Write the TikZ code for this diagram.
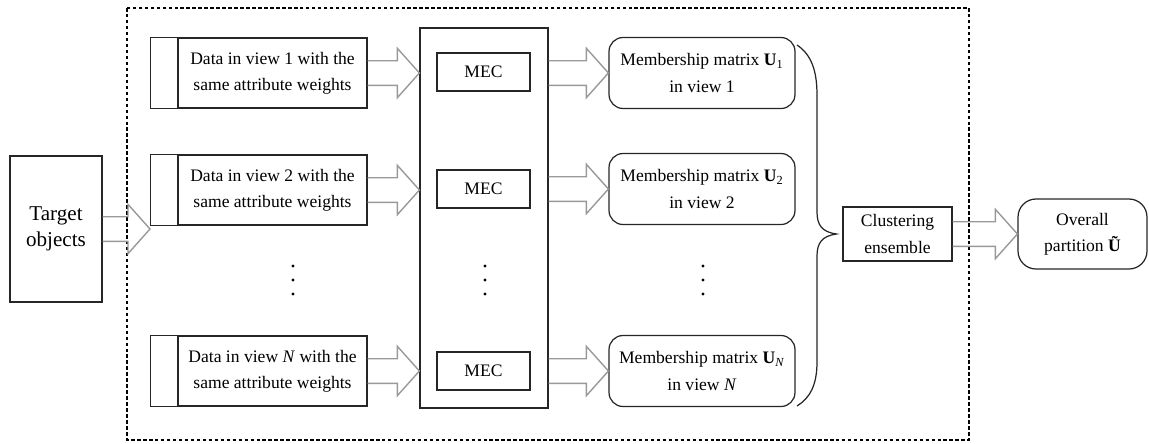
\documentclass[tikz,border=0pt]{standalone}
\usepackage{fontspec}
\setmainfont{Liberation Serif}
\usetikzlibrary{calc}

\newcommand{\blockarrow}[2]{%
	\draw[blockarrow] let \p1=(#1), \p2=(#2) in
		(\x1,\y1+7pt) -- (\x2-12.5pt,\y1+7pt) -- (\x2-12.5pt,\y1+14pt) -- (\x2,\y1)
		-- (\x2-12.5pt,\y1-14pt) -- (\x2-12.5pt,\y1-7pt) -- (\x1,\y1-7pt);}

\begin{document}
\begin{tikzpicture}[x=0.02cm, y=-0.02cm,
	box/.style={shape=rectangle, draw=black!85, line width=0.7pt, inner sep=0pt, align=center,
		font=\fontsize{10}{15}\selectfont},
	datbox/.style={box, minimum width=3.78cm, minimum height=1.4cm},
	mecbox/.style={box, minimum width=1.86cm, minimum height=0.76cm},
	membox/.style={box, rounded corners=0.28cm, minimum width=3.72cm, minimum height=1.42cm},
	blockarrow/.style={draw=black!40, line width=0.8pt},
	frame/.style={draw=black, line width=1.2pt, dash pattern=on 2pt off 1.4pt}]

	\useasboundingbox (0, 0) rectangle (1149, 443);
	\draw[frame] (127, 8) rectangle (969, 440);

	\node[box, minimum width=1.84cm, minimum height=2.92cm, font=\fontsize{12}{14.5}\selectfont] (target) at (56, 229) {Target\\objects};
	\coordinate (entry) at (150, 229);

	\node[datbox] (data1) at (272.5, 73)  {Data in view 1 with the\\same attribute weights};
	\node[datbox] (data2) at (272.5, 190) {Data in view 2 with the\\same attribute weights};
	\node[datbox] (dataN) at (272.5, 371) {Data in view \textit{N} with the\\same attribute weights};
	\foreach \d in {data1, data2, dataN}
		\draw[black!85, line width=0.7pt] (\d.south west) rectangle ([xshift=-0.54cm]\d.north west);

	\node[box, minimum width=2.56cm, minimum height=7.6cm] (col) at (484, 218) {};
	\node[mecbox] (mec1) at (483.5, 72)  {MEC};
	\node[mecbox] (mec2) at (483.5, 189) {MEC};
	\node[mecbox] (mecN) at (483.5, 371) {MEC};

	\node[membox] (mem1) at (702, 73)  {Membership matrix \textbf{U}\textsubscript{1}\\in view 1};
	\node[membox] (mem2) at (702, 189) {Membership matrix \textbf{U}\textsubscript{2}\\in view 2};
	\node[membox] (memN) at (702, 371) {Membership matrix \textbf{U}\textsubscript{\textit{N}}\\in view \textit{N}};

	\node[box, minimum width=2.18cm, minimum height=1.08cm] (ce) at (897.5, 234) {Clustering\\ensemble};
	\node[box, rounded corners=0.36cm, minimum width=2.58cm, minimum height=1.4cm] (ov) at (1082.5, 234) {Overall\\partition \textbf{Ũ}};
	\coordinate (tip) at ([xshift=-0.12cm]ce.west);

	% block arrows
	\blockarrow{target.east}{entry}
	\foreach \r in {1, 2, N} {
		\blockarrow{data\r.east}{col.west |- data\r.east}
		\blockarrow{col.east |- mem\r.west}{mem\r.west}
	}
	\blockarrow{ce.east}{ov.west}

	% brace
	\draw[black!85, line width=0.7pt] (797, 45) .. controls (812, 55) and (817, 72) .. (817, 95)
		-- (817, 212) .. controls (817, 225) and (822, 232) .. (tip)
		.. controls (822, 236) and (817, 243) .. (817, 256)
		-- (817, 362) .. controls (817, 385) and (810, 398) .. (797, 406);

	% dots
	\foreach \x in {293, 485, 703}
		\foreach \y in {266, 280, 294}
			\fill (\x, \y) circle (0.9pt);
\end{tikzpicture}
\end{document}
